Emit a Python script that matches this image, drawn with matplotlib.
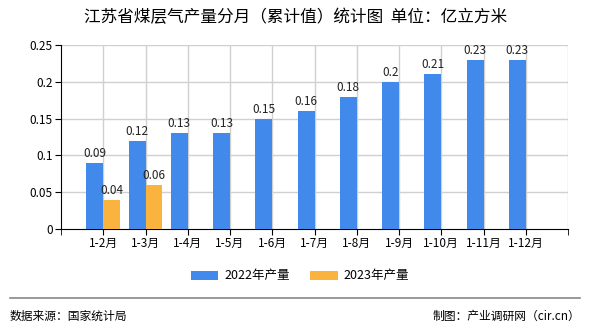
import matplotlib
matplotlib.use("Agg")
import matplotlib.pyplot as plt
import numpy as np

plt.rcParams["font.family"] = ["Noto Sans CJK SC", "DejaVu Sans"]

categories = ["1-2月", "1-3月", "1-4月", "1-5月", "1-6月", "1-7月",
              "1-8月", "1-9月", "1-10月", "1-11月", "1-12月"]
prod_2022 = [0.09, 0.12, 0.13, 0.13, 0.15, 0.16, 0.18, 0.2, 0.21, 0.23, 0.23]
prod_2023 = [0.04, 0.06]
yticks = [0, 0.05, 0.1, 0.15, 0.2, 0.25]
ytick_labels = ["0", "0.05", "0.1", "0.15", "0.2", "0.25"]

BLUE = "#418AEC"
ORANGE = "#FBB33F"
GRID = "#D0D0D0"

fig = plt.figure(figsize=(5.9, 3.3), dpi=100)
ax = fig.add_axes([61 / 590, 1 - 229 / 330, (568 - 61) / 590, (229 - 45) / 330])

x = np.arange(len(categories))
w = 0.4
b1 = ax.bar(x - w / 2, prod_2022, width=w, color=BLUE, label="2022年产量", zorder=3)
x23 = x[:len(prod_2023)]
b2 = ax.bar(x23 + w / 2, prod_2023, width=w, color=ORANGE, label="2023年产量", zorder=3)

for rect, v in zip(b1, prod_2022):
    ax.text(rect.get_x() + rect.get_width() / 2, v + 0.004, f"{v:g}",
            ha="center", va="bottom", fontsize=8.5, color="#222222")
for rect, v in zip(b2, prod_2023):
    ax.text(rect.get_x() + rect.get_width() / 2, v + 0.004, f"{v:g}",
            ha="center", va="bottom", fontsize=8.5, color="#222222")

ax.set_xlim(-1, 11)
ax.set_ylim(0, 0.25)
ax.set_yticks(yticks)
ax.set_yticklabels(ytick_labels, fontsize=8.5)
ax.set_xticks(x)
ax.set_xticklabels(categories, fontsize=8.5)

# grid lines at category centres and at the right edge
for xv in list(x) + [11]:
    ax.axvline(xv, color=GRID, lw=1, zorder=1)
for yv in yticks[1:]:
    ax.axhline(yv, color=GRID, lw=1, zorder=1)

# extra ticks at the plot edges
ax.set_xticks([-1, 11], minor=True)
ax.tick_params(axis="x", which="both", direction="out", length=4, color="black", pad=2)
ax.tick_params(axis="y", direction="out", length=4, color="black", pad=2)

for side in ["top", "right"]:
    ax.spines[side].set_visible(False)
ax.spines["left"].set_color("black")
ax.spines["bottom"].set_color("black")

fig.text(296 / 590, 1 - 18 / 330, "江苏省煤层气产量分月（累计值）统计图  单位：亿立方米",
         ha="center", va="center", fontsize=12)

fig.legend(handles=[b1, b2], loc="center", bbox_to_anchor=(300 / 590, 1 - 276 / 330),
           ncol=2, frameon=False, fontsize=9, handlelength=2.2, handleheight=0.7,
           columnspacing=1.6, handletextpad=0.5)

fig.add_artist(plt.Line2D([10 / 590, 580 / 590], [1 - 298 / 330] * 2,
                          color="#888888", lw=1.2, transform=fig.transFigure))
fig.text(10 / 590, 1 - 316 / 330, "数据来源：国家统计局", ha="left", va="center", fontsize=8.5)
fig.text(580 / 590, 1 - 316 / 330, "制图：产业调研网（cir.cn）", ha="right", va="center", fontsize=8.5)

fig.savefig("out.png", dpi=100, facecolor="white")
